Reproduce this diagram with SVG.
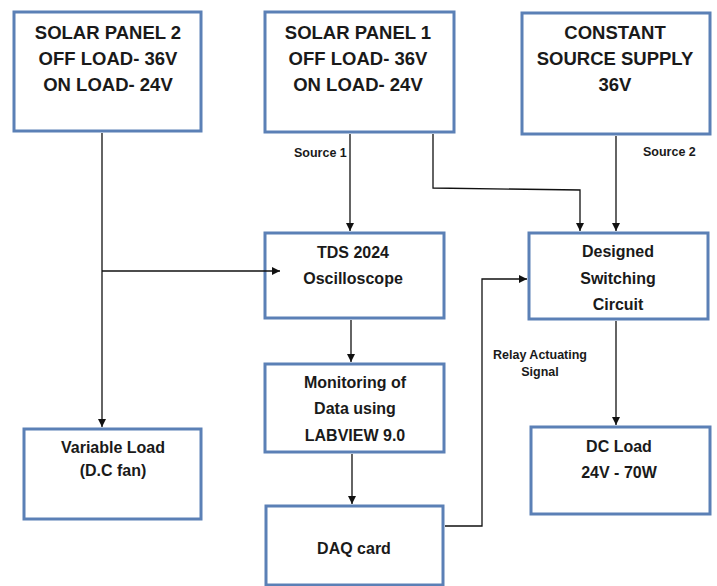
<svg xmlns="http://www.w3.org/2000/svg" width="717" height="586" viewBox="0 0 717 586">
<defs>
<style>
.box{fill:#fff;stroke:#5b80b6;stroke-width:3}
.big{font-family:"Liberation Sans",Arial,sans-serif;font-weight:bold;font-size:18.5px;fill:#1a1a1a;text-anchor:middle}
.mid{font-family:"Liberation Sans",Arial,sans-serif;font-weight:bold;font-size:16px;fill:#1a1a1a;text-anchor:middle}
.sm{font-family:"Liberation Sans",Arial,sans-serif;font-weight:bold;font-size:12.5px;fill:#1a1a1a}
.ln{fill:none;stroke:#111;stroke-width:1.3}
</style>
<marker id="ah" viewBox="0 0 10 10" refX="10" refY="5" markerWidth="8" markerHeight="8" markerUnits="userSpaceOnUse" orient="auto">
<path d="M0,0 L10,5 L0,10 z" fill="#111"/>
</marker>
</defs>
<rect width="717" height="586" fill="#fff"/>
<g id="solar2">
<rect class="box" x="14" y="12" width="187" height="119"/>
<text class="big" x="108" y="39">SOLAR PANEL 2</text>
<text class="big" x="108" y="65">OFF LOAD- 36V</text>
<text class="big" x="108" y="91">ON LOAD- 24V</text>
</g>
<g id="solar1">
<rect class="box" x="265" y="12" width="189" height="120"/>
<text class="big" x="358" y="39">SOLAR PANEL 1</text>
<text class="big" x="358" y="65">OFF LOAD- 36V</text>
<text class="big" x="358" y="91">ON LOAD- 24V</text>
</g>
<g id="constant">
<rect class="box" x="522" y="13" width="188" height="121"/>
<text class="big" x="615" y="39">CONSTANT</text>
<text class="big" x="615" y="65">SOURCE SUPPLY</text>
<text class="big" x="615" y="91">36V</text>
</g>
<g id="oscilloscope">
<rect class="box" x="265" y="233" width="179" height="85"/>
<text class="mid" x="353" y="258">TDS 2024</text>
<text class="mid" x="353" y="284">Oscilloscope</text>
</g>
<g id="switching">
<rect class="box" x="529" y="233" width="179" height="86"/>
<text class="mid" x="618" y="257">Designed</text>
<text class="mid" x="618" y="284">Switching</text>
<text class="mid" x="618" y="310">Circuit</text>
</g>
<g id="monitoring">
<rect class="box" x="265" y="364" width="179" height="88"/>
<text class="mid" x="355" y="388">Monitoring of</text>
<text class="mid" x="355" y="414">Data using</text>
<text class="mid" x="355" y="441">LABVIEW 9.0</text>
</g>
<g id="variable-load">
<rect class="box" x="24" y="429" width="177" height="90"/>
<text class="mid" x="113" y="453">Variable Load</text>
<text class="mid" x="113" y="476">(D.C fan)</text>
</g>
<g id="dc-load">
<rect class="box" x="531" y="427" width="179" height="87"/>
<text class="mid" x="619" y="452">DC Load</text>
<text class="mid" x="619" y="478">24V - 70W</text>
</g>
<g id="daq">
<rect class="box" x="266" y="506" width="177" height="79"/>
<text class="mid" x="354" y="554">DAQ card</text>
</g>
<g id="connectors">
<path class="ln" d="M102,133 V427" marker-end="url(#ah)"/>
<path class="ln" d="M102,271 H280" marker-end="url(#ah)"/>
<path class="ln" d="M350,134 V231" marker-end="url(#ah)"/>
<path class="ln" d="M433,134 V188 L580,190 V231" marker-end="url(#ah)"/>
<path class="ln" d="M616,136 V231" marker-end="url(#ah)"/>
<path class="ln" d="M351,320 V362" marker-end="url(#ah)"/>
<path class="ln" d="M352,454 V504" marker-end="url(#ah)"/>
<path class="ln" d="M445,526 H482 V279 H527" marker-end="url(#ah)"/>
<path class="ln" d="M616,321 V425" marker-end="url(#ah)"/>
<text class="sm" x="294" y="157">Source 1</text>
<text class="sm" x="643" y="156">Source 2</text>
<text class="sm" x="540" y="359" text-anchor="middle">Relay Actuating</text>
<text class="sm" x="540" y="376" text-anchor="middle">Signal</text>
</g>
</svg>
